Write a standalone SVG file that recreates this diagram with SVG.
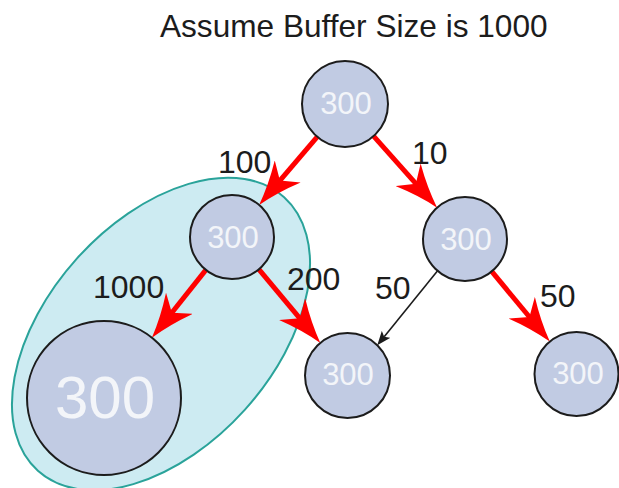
<svg xmlns="http://www.w3.org/2000/svg" width="619" height="488" viewBox="0 0 619 488">
  <style>
    .node circle { fill: #c1cbe3; stroke: #1c1c1c; stroke-width: 2; }
    .node text { fill: #f3f5f9; font-family: "Liberation Sans", Arial, sans-serif; font-size: 31px; text-anchor: middle; }
    .node.big text { font-size: 60px; }
    .label { fill: #1c1c1c; font-family: "Liberation Sans", Arial, sans-serif; font-size: 32px; }
    .title { font-size: 31.6px; }
    .hot { stroke: #ff0000; stroke-width: 5; fill: none; marker-end: url(#redHead); }
    .plain { stroke: #1c1c1c; stroke-width: 1.6; fill: none; marker-end: url(#blackHead); }
  </style>
  <defs>
    <!-- notched arrowheads; the line stops inside the head so the tip stays sharp -->
    <marker id="redHead" markerUnits="userSpaceOnUse" viewBox="0 0 44 34" markerWidth="44" markerHeight="34" refX="14" refY="17" orient="auto">
      <path d="M44,17 Q22,11 0,0 L12,17 L0,34 Q22,23 44,17 Z" fill="#ff0000"/>
    </marker>
    <marker id="blackHead" markerUnits="userSpaceOnUse" viewBox="0 0 14 11" markerWidth="14" markerHeight="11" refX="3" refY="5.5" orient="auto">
      <path d="M14,5.5 L0,0 L3,5.5 L0,11 Z" fill="#1c1c1c"/>
    </marker>
  </defs>

  <rect width="619" height="488" fill="#ffffff"/>

  <text class="label title" x="160" y="37">Assume Buffer Size is 1000</text>

  <!-- grouping around the left subtree -->
  <ellipse id="group" cx="161" cy="334" rx="184" ry="113" transform="rotate(-48 161 334)" fill="#cdebf2" stroke="#2aa39a" stroke-width="2"/>

  <g id="connectors">
    <line class="hot" x1="317.2" y1="136.8" x2="278.6" y2="182.1"/>
    <line class="hot" x1="373.6" y1="136.1" x2="417.2" y2="185.2"/>
    <line class="hot" x1="205.9" y1="269.9" x2="170.6" y2="314.2"/>
    <line class="hot" x1="258.9" y1="269.3" x2="301.1" y2="319.9"/>
    <line class="plain" x1="437.6" y1="270.8" x2="384.2" y2="336.7"/>
    <line class="hot" x1="491.7" y1="271.4" x2="530.7" y2="318.5"/>
    <text class="label" x="218" y="173">100</text>
    <text class="label" x="412" y="164">10</text>
    <text class="label" x="93" y="298">1000</text>
    <text class="label" x="287" y="290">200</text>
    <text class="label" x="375" y="299">50</text>
    <text class="label" x="540" y="307">50</text>
  </g>

  <g id="root" class="node">
    <circle cx="345" cy="104" r="43"/>
    <text x="346" y="114">300</text>
  </g>
  <g id="left" class="node">
    <circle cx="232" cy="237" r="42"/>
    <text x="233" y="248">300</text>
  </g>
  <g id="right" class="node">
    <circle cx="465" cy="239" r="42"/>
    <text x="466" y="250">300</text>
  </g>
  <g id="leftLeaf" class="node big">
    <circle cx="104" cy="398" r="77"/>
    <text x="105" y="418">300</text>
  </g>
  <g id="midLeaf" class="node">
    <circle cx="347.5" cy="375.5" r="42.5"/>
    <text x="348" y="385">300</text>
  </g>
  <g id="rightLeaf" class="node">
    <circle cx="576.5" cy="374" r="42"/>
    <text x="578" y="384">300</text>
  </g>
</svg>
